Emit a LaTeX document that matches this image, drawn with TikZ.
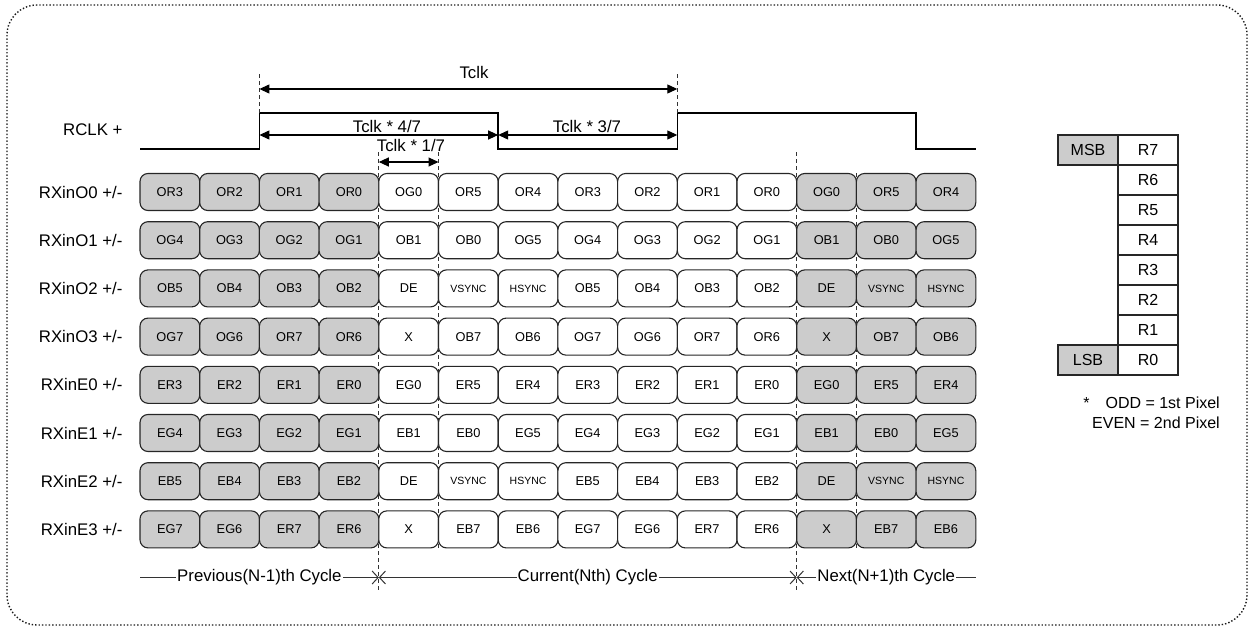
\documentclass[tikz,border=0pt]{standalone}
\usepackage{fontspec}
\setmainfont{Liberation Sans}
\usetikzlibrary{positioning}
\usetikzlibrary{arrows.meta}

\newcommand{\syncfont}{\fontsize{10.5}{12}\selectfont}

\tikzset{
    sigfont/.style={font=\fontsize{16.8}{20}\selectfont},
    bitcell/.style={rectangle, rounded corners=8pt, draw=black!85, line width=1.1pt, minimum width=59.7pt, minimum height=37pt, inner sep=0pt, font=\fontsize{12.8}{14}\selectfont},
    regcell/.style={rectangle, draw=black!85, line width=1.1pt, minimum width=60pt, minimum height=30pt, inner sep=0pt, outer sep=0pt, font=\fontsize{16}{18}\selectfont},
    guideline/.style={dash pattern=on 4pt off 3pt, line width=0.8pt, draw=black!80},
    dimarrow/.style={{Triangle[length=10pt,width=9pt]}-{Triangle[length=10pt,width=9pt]}, line width=1.1pt},
    cycarrow/.style={line width=1pt, draw=black!80},
    cyclbl/.style={sigfont, fill=white, inner xsep=1pt, inner ysep=2pt}
}

\begin{document}
\begin{tikzpicture}[x=1pt, y=-1pt]
    \useasboundingbox (0,0) rectangle (1250,629);
    \draw[line width=1.4pt, dash pattern=on 1.4pt off 2pt, rounded corners=30pt, black!90] (7,5) rectangle (1247,625);

    % clock
    \node (rclk) [sigfont, anchor=east] at (126,130) {RCLK +};
    \draw[line width=1.6pt] (140,149) -- (259.4,149) -- (259.4,113) -- (498.2,113) -- (498.2,149) -- (677.3,149) -- (677.3,113) -- (916.1,113) -- (916.1,149) -- (975.8,149);

    % guides
    \draw[guideline] (259.4,74) -- (259.4,113);
    \draw[guideline] (677.3,74) -- (677.3,113);
    \draw[guideline] (378.8,152) -- (378.8,590);
    \draw[guideline] (438.5,152) -- (438.5,548);
    \draw[guideline] (796.7,152) -- (796.7,590);
    \draw[guideline] (856.4,173) -- (856.4,548);

    % timing
    \coordinate (tclkL) at (259.4,89);
    \coordinate (tclkR) at (677.3,89);
    \coordinate (highL) at (259.4,135);
    \coordinate (highR) at (498.2,135);
    \coordinate (lowR) at (677.3,135);
    \coordinate (bitL) at (378.8,162);
    \coordinate (bitR) at (438.5,162);
    \draw[dimarrow] (tclkL) -- (tclkR);
    \draw[dimarrow] (highL) -- (highR);
    \draw[dimarrow] (highR) -- (lowR);
    \draw[dimarrow] (bitL) -- (bitR);
    \node (tclk) [sigfont, anchor=base] at (474,78) {Tclk};
    \node (tclkhigh) [sigfont, anchor=base] at (387,132.5) {Tclk * 4/7};
    \node (tclklow) [sigfont, anchor=base] at (587,132.5) {Tclk * 3/7};
    \node (tclkbit) [sigfont, anchor=base] at (411,151.5) {Tclk * 1/7};

    % data lanes
    \foreach \row/\sig/\bits in {
        0/O0/{OR3,OR2,OR1,OR0,OG0,OR5,OR4,OR3,OR2,OR1,OR0,OG0,OR5,OR4},
        1/O1/{OG4,OG3,OG2,OG1,OB1,OB0,OG5,OG4,OG3,OG2,OG1,OB1,OB0,OG5},
        2/O2/{OB5,OB4,OB3,OB2,DE,\syncfont VSYNC,\syncfont HSYNC,OB5,OB4,OB3,OB2,DE,\syncfont VSYNC,\syncfont HSYNC},
        3/O3/{OG7,OG6,OR7,OR6,X,OB7,OB6,OG7,OG6,OR7,OR6,X,OB7,OB6},
        4/E0/{ER3,ER2,ER1,ER0,EG0,ER5,ER4,ER3,ER2,ER1,ER0,EG0,ER5,ER4},
        5/E1/{EG4,EG3,EG2,EG1,EB1,EB0,EG5,EG4,EG3,EG2,EG1,EB1,EB0,EG5},
        6/E2/{EB5,EB4,EB3,EB2,DE,\syncfont VSYNC,\syncfont HSYNC,EB5,EB4,EB3,EB2,DE,\syncfont VSYNC,\syncfont HSYNC},
        7/E3/{EG7,EG6,ER7,ER6,X,EB7,EB6,EG7,EG6,ER7,ER6,X,EB7,EB6}}{
        \node (lane\sig) [sigfont, anchor=east] at (126,192+48.2*\row) {RXin\sig\ +/-};
        \foreach \bit [count=\col from 0] in \bits {
            \def\cellfill{white}
            \ifnum\col<4 \def\cellfill{black!20}\fi
            \ifnum\col>10 \def\cellfill{black!20}\fi
            \node (cell\sig-\col) [bitcell, fill=\cellfill] at (169.85+59.7*\col,192+48.2*\row) {\bit};
        }
    }

    % cycles
    \coordinate (cyc0) at (140,577.5);
    \coordinate (cyc1) at (378.8,577.5);
    \coordinate (cyc2) at (796.7,577.5);
    \coordinate (cyc3) at (975.8,577.5);
    \draw[cycarrow, -{Straight Barb[length=6pt,width=13pt]}] (cyc0) -- node[cyclbl] {Previous(N-1)th Cycle} (cyc1);
    \draw[cycarrow, {Straight Barb[length=6pt,width=13pt]}-{Straight Barb[length=6pt,width=13pt]}] (cyc1) -- node[cyclbl] {Current(Nth) Cycle} (cyc2);
    \draw[cycarrow, {Straight Barb[length=6pt,width=13pt]}-] (cyc2) -- node[cyclbl] {Next(N+1)th Cycle} (cyc3);

    % bit order
    \node (bitr7) [regcell] at (1148,150) {R7};
    \node (bitr6) [regcell, below=0pt of bitr7] {R6};
    \node (bitr5) [regcell, below=0pt of bitr6] {R5};
    \node (bitr4) [regcell, below=0pt of bitr5] {R4};
    \node (bitr3) [regcell, below=0pt of bitr4] {R3};
    \node (bitr2) [regcell, below=0pt of bitr3] {R2};
    \node (bitr1) [regcell, below=0pt of bitr2] {R1};
    \node (bitr0) [regcell, below=0pt of bitr1] {R0};
    \node (msb) [regcell, fill=black!20, left=0pt of bitr7] {MSB};
    \node (lsb) [regcell, fill=black!20, left=0pt of bitr0] {LSB};
    \node (pixnote) [font=\fontsize{16}{19.5}\selectfont, align=right, anchor=north east, inner sep=0pt] at (1220,397) {*\hspace{16pt}ODD = 1st Pixel\\EVEN = 2nd Pixel};
\end{tikzpicture}
\end{document}
